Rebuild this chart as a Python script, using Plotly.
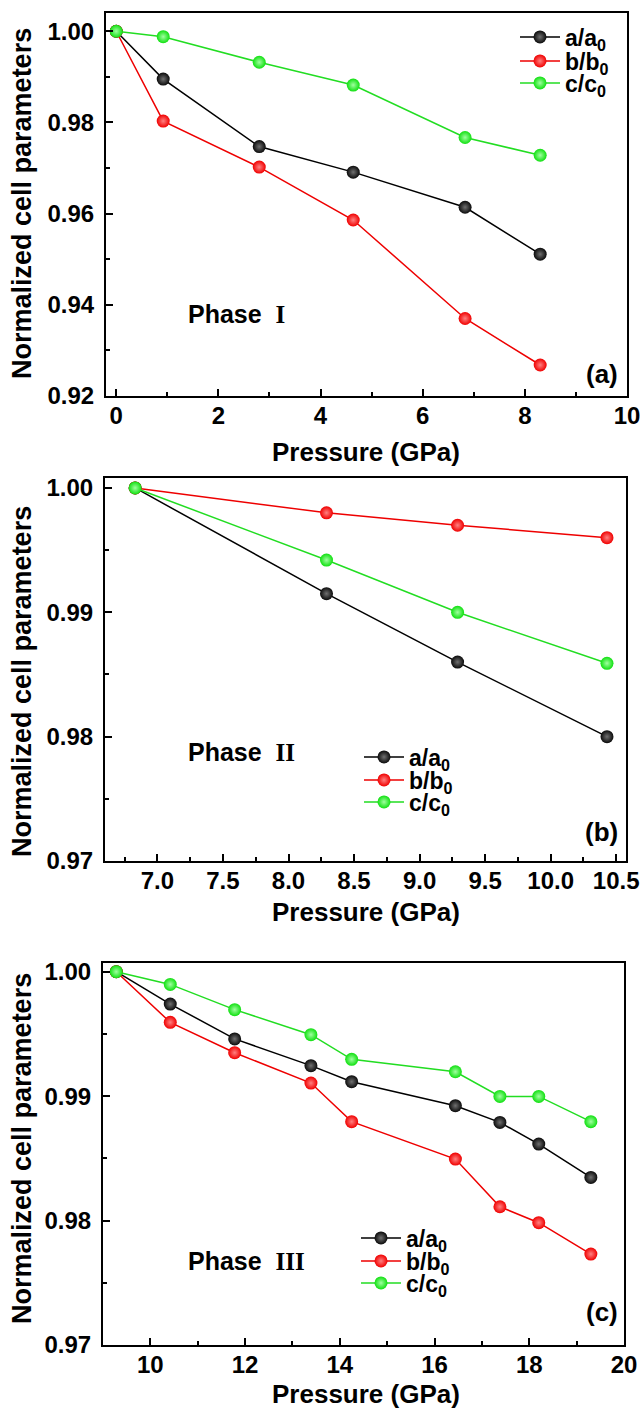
import plotly.graph_objects as go

W, H = 641, 1408

# ---------------- data ----------------
p_a = [0.0, 0.92, 2.80, 4.64, 6.83, 8.30]
a_a = [1.000, 0.9895, 0.9747, 0.9691, 0.9614, 0.9511]
b_a = [1.000, 0.9803, 0.9702, 0.9586, 0.9370, 0.9268]
c_a = [1.000, 0.9988, 0.9932, 0.9882, 0.9767, 0.9728]

p_b = [6.83, 8.29, 9.29, 10.43]
a_b = [1.000, 0.9915, 0.9860, 0.9800]
b_b = [1.000, 0.9980, 0.9970, 0.9960]
c_b = [1.000, 0.9942, 0.9900, 0.9859]

p_c = [9.28, 10.42, 11.78, 13.39, 14.25, 16.44, 17.38, 18.20, 19.30]
a_c = [1.000, 0.9974, 0.9946, 0.99245, 0.99116, 0.98923, 0.98789, 0.98615, 0.98347]
b_c = [1.000, 0.99593, 0.99349, 0.99105, 0.98795, 0.98494, 0.98111, 0.97983, 0.97731]
c_c = [1.000, 0.99898, 0.99695, 0.99494, 0.99296, 0.99196, 0.98998, 0.98998, 0.98795]

series_names = ["a/a<sub>0</sub>", "b/b<sub>0</sub>", "c/c<sub>0</sub>"]
phase_labels = ["I", "II", "III"]
panel_labels = ["(a)", "(b)", "(c)"]
x_title = "Pressure (GPa)"
y_title = "Normalized cell parameters"

# ---------------- styles ----------------
line_colors = ["#000000", "#ee0000", "#22dd22"]
marker_colors = ["#0a0a0a", "#f00000", "#10e010"]
marker_centers = ["#707070", "#ff8080", "#a0ffa0"]

SANS = "Liberation Sans, Arial, sans-serif"

def px_x(x):
    return x / W

def px_y(y):
    return 1 - y / H

# frame pixel boxes (left, top, right, bottom)
frames = [(106, 13, 627, 396), (105, 478, 626, 861), (103, 963, 624, 1345)]
x_ranges = [[-0.2, 10], [6.6, 10.575], [9.0, 20.0]]
y_ranges = [[0.92, 1.004], [0.97, 1.0008], [0.97, 1.0007]]
x_dticks = [2, 0.5, 2]
x_minor = [1, 0.25, 1]
y_dticks = [0.02, 0.01, 0.01]
y_minor = [0.01, 0.005, 0.005]
x_fmt = ["d", ".1f", "d"]

datasets = [(p_a, [a_a, b_a, c_a]), (p_b, [a_b, b_b, c_b]), (p_c, [a_c, b_c, c_c])]
legend_x = [535, 379, 376]
legend_rows = [(37, 61, 83), (757, 780, 802), (1238, 1261, 1283)]

fig = go.Figure()
layout = dict(
    width=W, height=H,
    margin=dict(l=0, r=0, t=0, b=0, autoexpand=False),
    paper_bgcolor="white", plot_bgcolor="white",
    font=dict(family=SANS, color="black"),
    showlegend=True,
    annotations=[],
)

n = 0
for i, (px_, ys) in enumerate(datasets):
    xa = "x" if i == 0 else f"x{i+1}"
    ya = "y" if i == 0 else f"y{i+1}"
    for k, yv in enumerate(ys):
        n += 1
        lkey = "legend" if n == 1 else f"legend{n}"
        fig.add_trace(go.Scatter(
            x=px_, y=yv, xaxis=xa, yaxis=ya,
            mode="lines+markers",
            name=series_names[k],
            legend=lkey,
            line=dict(color=line_colors[k], width=1.5),
            marker=dict(size=13, color=marker_colors[k],
                        gradient=dict(type="radial", color=marker_centers[k]),
                        line=dict(width=0)),
        ))
        layout[lkey] = dict(
            x=px_x(legend_x[i] - 20), y=px_y(legend_rows[i][k]),
            xanchor="left", yanchor="middle",
            bgcolor="rgba(0,0,0,0)", borderwidth=0, itemwidth=40,
            font=dict(family=SANS, size=23, color="black", weight="bold"),
        )

for i in range(3):
    l, t, r, b = frames[i]
    xk = "xaxis" if i == 0 else f"xaxis{i+1}"
    yk = "yaxis" if i == 0 else f"yaxis{i+1}"
    ya = "y" if i == 0 else f"y{i+1}"
    xa = "x" if i == 0 else f"x{i+1}"
    layout[xk] = dict(
        domain=[px_x(l), px_x(r)], range=x_ranges[i], anchor=ya, automargin=False,
        showline=True, linecolor="black", linewidth=2, mirror=True,
        ticks="inside", ticklen=7, tickwidth=1.5, tickcolor="black",
        dtick=x_dticks[i], tick0=0, tickformat=x_fmt[i],
        minor=dict(ticks="inside", ticklen=4, tickwidth=1.5, tickcolor="black", dtick=x_minor[i]),
        showgrid=False, zeroline=False,
        tickfont=dict(family=SANS, size=24, color="black", weight="bold"),
        ticklabelstandoff=-3,
    )
    layout[yk] = dict(
        domain=[px_y(b), px_y(t)], range=y_ranges[i], anchor=xa, automargin=False,
        showline=True, linecolor="black", linewidth=2, mirror=True,
        ticks="inside", ticklen=7, tickwidth=1.5, tickcolor="black",
        dtick=y_dticks[i], tick0=0, tickformat=".2f",
        minor=dict(ticks="inside", ticklen=4, tickwidth=1.5, tickcolor="black", dtick=y_minor[i]),
        showgrid=False, zeroline=False,
        tickfont=dict(family=SANS, size=24, color="black", weight="bold"),
        ticklabelstandoff=5,
    )

# titles and labels (pixels)
x_title_y = [452, 912, 1394]
y_title_y = [204, 682, 1149]
phase_y = [314, 752, 1261]
panel_y = [374, 832, 1312]
for i in range(3):
    layout["annotations"].append(dict(
        text=x_title, xref="paper", yref="paper", x=px_x(366), y=px_y(x_title_y[i]),
        xanchor="center", yanchor="middle", showarrow=False,
        font=dict(family=SANS, size=26, color="black", weight="bold")))
    layout["annotations"].append(dict(
        text=y_title, xref="paper", yref="paper", x=px_x(22), y=px_y(y_title_y[i]),
        xanchor="center", yanchor="middle", showarrow=False, textangle=-90,
        font=dict(family=SANS, size=27, color="black", weight="bold")))
    layout["annotations"].append(dict(
        text="Phase  <span style='font-family:Liberation Serif, Times New Roman, serif'>" + phase_labels[i] + "</span>",
        xref="paper", yref="paper", x=px_x(186), y=px_y(phase_y[i]),
        xanchor="left", yanchor="middle", showarrow=False,
        font=dict(family=SANS, size=25, color="black", weight="bold")))
    layout["annotations"].append(dict(
        text=panel_labels[i], xref="paper", yref="paper", x=px_x(620), y=px_y(panel_y[i]),
        xanchor="right", yanchor="middle", showarrow=False,
        font=dict(family=SANS, size=26, color="black", weight="bold")))

fig.update_layout(**layout)
fig.write_html("out.html", config={"displayModeBar": False},
               post_script="document.body.style.margin='0';")
